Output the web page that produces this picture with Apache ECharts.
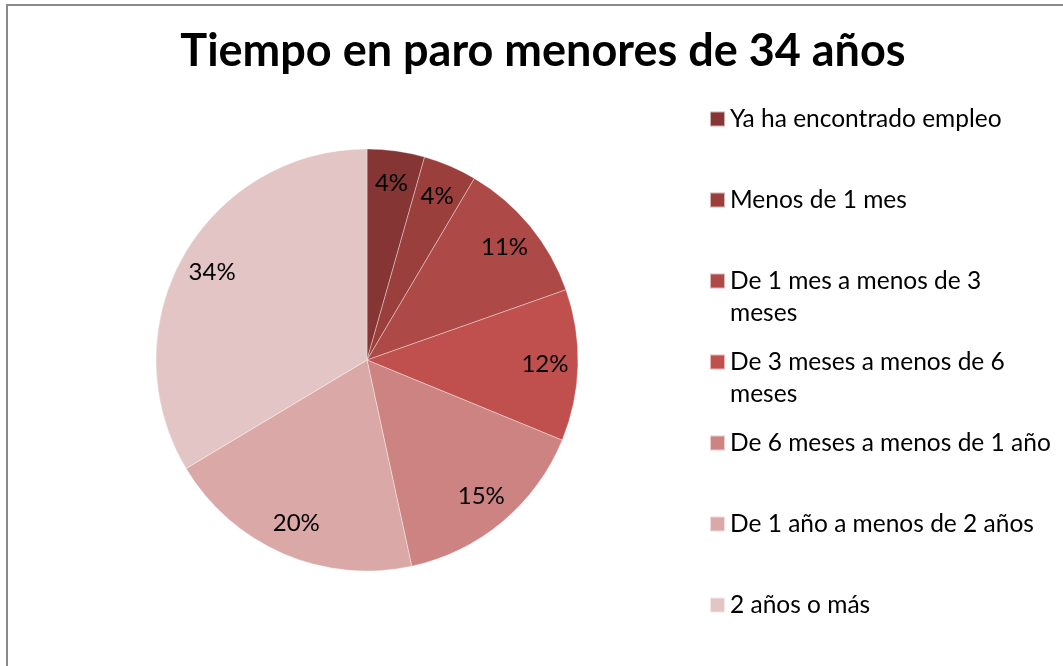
<!DOCTYPE html>
<html>
<head>
    <meta charset="UTF-8"/>
    <title>Tiempo en paro menores de 34 años</title>
    <style>
        html, body { margin: 0; padding: 0; background: #fff; }
        #frame {
            position: absolute; left: 6px; top: 4px; right: -10px; bottom: -10px;
            border-top: 2px solid #8a8a8a; border-left: 2px solid #8a8a8a;
        }
        #chart { position: absolute; left: 0; top: 0; width: 1063px; height: 666px; }
    </style>
</head>
<body>
<div id="frame"></div>
<div id="chart"></div>
<script src="https://cdn.jsdelivr.net/npm/echarts@6/dist/echarts.min.js"></script>
<script>
    var categories = ['Ya ha encontrado empleo', 'Menos de 1 mes', 'De 1 mes a menos de 3 meses',
        'De 3 meses a menos de 6 meses', 'De 6 meses a menos de 1 año', 'De 1 año a menos de 2 años', '2 años o más'];
    // porcentajes
    var values = [4.4, 4.1, 11.1, 11.6, 15.4, 19.8, 33.6];
    var colors = ['#843534', '#9b3f3d', '#ad4947', '#c0504d', '#cd8381', '#d9a8a7', '#e3c5c6'];

    // texto de la leyenda partido en dos lineas
    var wrapped = {
        'De 1 mes a menos de 3 meses': 'De 1 mes a menos de 3\nmeses',
        'De 3 meses a menos de 6 meses': 'De 3 meses a menos de 6\nmeses'
    };

    var font = 'Lato, "Open Sans", sans-serif';

    var pieData = categories.map(function (name, i) {
        return {name: name, value: values[i], itemStyle: {color: colors[i]}};
    });

    var myChart = echarts.init(document.getElementById('chart'));

    var option = {
        backgroundColor: 'transparent',
        animation: false,
        title: {
            text: 'Tiempo en paro menores de 34 años',
            left: 538,
            textAlign: 'center',
            top: 24,
            textStyle: {fontFamily: font, fontSize: 45, fontWeight: 'bold', color: '#000'}
        },
        legend: {
            orient: 'vertical',
            left: 709,
            top: 71,
            padding: 0,
            itemWidth: 15,
            itemHeight: 15,
            itemGap: -15,
            icon: 'rect',
            selectedMode: false,
            data: categories,
            // tres lineas por elemento: la primera linea de texto queda a la altura del icono
            formatter: function (name) {
                return wrapped[name] ? '\n' + wrapped[name] : '\n' + name + '\n';
            },
            textStyle: {fontFamily: font, fontSize: 24.5, color: '#000', lineHeight: 32}
        },
        series: [
            {
                type: 'pie',
                center: [367, 360],
                radius: 211,
                startAngle: 90,
                clockwise: true,
                label: {show: false},
                labelLine: {show: false},
                itemStyle: {borderColor: 'rgba(255,255,255,0.6)', borderWidth: 0.6},
                emphasis: {disabled: true},
                data: pieData
            },
            {
                // capa transparente solo para colocar los porcentajes
                type: 'pie',
                center: [367, 360],
                radius: [139, 211],
                startAngle: 90,
                clockwise: true,
                silent: true,
                legendHoverLink: false,
                itemStyle: {color: 'rgba(0,0,0,0)'},
                label: {
                    show: true,
                    position: 'inside',
                    formatter: function (p) { return Math.round(p.value) + '%'; },
                    fontFamily: font,
                    fontSize: 24,
                    color: '#000'
                },
                labelLine: {show: false},
                emphasis: {disabled: true},
                data: categories.map(function (name, i) {
                    return {name: name, value: values[i]};
                })
            }
        ]
    };

    myChart.setOption(option);
</script>
</body>
</html>
